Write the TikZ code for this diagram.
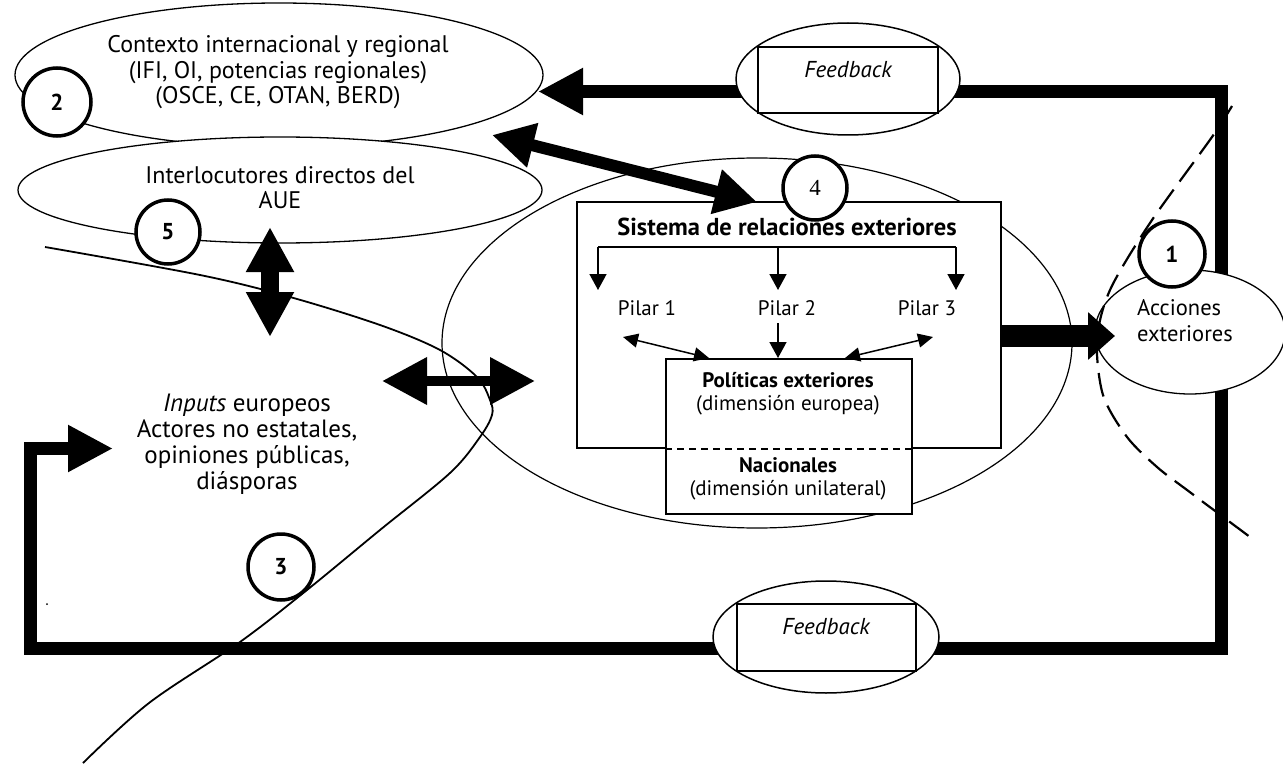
\documentclass[tikz,border=0pt]{standalone}
\usepackage{fontspec}
\setmainfont{PT Sans}
\newfontfamily\digitserif{Liberation Serif}
\usetikzlibrary{arrows.meta,shapes.geometric,backgrounds}

\tikzset{
  txt/.style={align=center, inner sep=0pt, font=\fontsize{24}{25.5}\selectfont},
  smalltxt/.style={align=center, inner sep=0pt, font=\fontsize{21}{23}\selectfont},
  oval/.style={draw, ellipse, fill=white, line width=1.3pt, inner sep=0pt},
  numcirc/.style={draw, circle, fill=white, line width=3.5pt, minimum size=64pt, inner sep=0pt, font=\fontsize{23}{23}\selectfont\bfseries},
  sysbox/.style={draw, rectangle, fill=white, line width=2pt, inner sep=0pt},
  feedline/.style={line width=13pt},
  fbarrow/.style={line width=13pt, -{Triangle[length=45pt,width=44pt]}},
  smallarrow/.style={line width=1.5pt, -{Triangle[length=16pt,width=17pt]}},
  smalldouble/.style={line width=1.5pt, {Triangle[length=15pt,width=14pt]}-{Triangle[length=15pt,width=14pt]}},
}

\begin{document}
\begin{tikzpicture}[x=1pt, y=-1pt]
\useasboundingbox (0,0) rectangle (1283,765);

% contexto e interlocutores
\node[oval, minimum width=528pt, minimum height=144pt] (ctx) at (279,75) {};
\node[oval, minimum width=524pt, minimum height=106pt] (intl) at (280,190) {};
\node[txt] (ctxtext) at (278,72.5) {Contexto internacional y regional\\(IFI, OI, potencias regionales)\\(OSCE, CE, OTAN, BERD)};
\node[txt] (intltext) at (280,187.5) {Interlocutores directos del\\AUE};
\node[numcirc, minimum size=68pt] (n2) at (57,102) {2};
\node[numcirc] (n5) at (168,232) {5};

% frontera 3
\draw[line width=1.8pt] plot[smooth, tension=0.55] coordinates {(45,247) (200,275) (290,297) (380,325) (440,350) (477,377) (490,400) (492,415) (480,437) (450,473) (380,530) (307,590) (240,642) (149,703) (83,763)};
\node[numcirc, minimum size=66pt] (n3) at (281,567) {3};
\fill (47,604) circle (1);

% inputs
\node[txt, font=\fontsize{25}{26}\selectfont] (inptext) at (247,444) {\textit{Inputs} europeos\\Actores no estatales,\\opiniones públicas,\\diásporas};

% sistema
\node[draw, ellipse, line width=1.2pt, minimum width=630pt, minimum height=370pt] (env) at (757,343) {};
\node[sysbox, minimum width=424pt, minimum height=246pt] (sys) at (789,325) {};
\node[sysbox, minimum width=246pt, minimum height=155pt] (pol) at (789,436.5) {};
\draw[line width=1.5pt, dash pattern=on 7pt off 5pt] (pol.west |- sys.south) to (pol.east |- sys.south);
\node[txt, font=\fontsize{24.5}{25}\selectfont\bfseries] (systitle) at (787,227) {Sistema de relaciones exteriores};
\node[smalltxt] (p1) at (647,308) {Pilar 1};
\node[smalltxt] (p2) at (787,308) {Pilar 2};
\node[smalltxt] (p3) at (927,308) {Pilar 3};
\node[smalltxt] (poltext) at (788,393.5) {\textbf{Políticas exteriores}\\(dimensión europea)};
\node[smalltxt] (nactext) at (788,478.5) {\textbf{Nacionales}\\(dimensión unilateral)};

\coordinate (bl) at (598,247);
\coordinate (bm) at (778,247);
\coordinate (br) at (956,247);
\draw[line width=1.5pt] (bl) to (br);
\draw[smallarrow] (bl) -- ++(0,43);
\draw[smallarrow] (bm) -- ++(0,43);
\draw[smallarrow] (br) -- ++(0,43);
\coordinate (p2out) at (778,323);
\draw[smallarrow] (p2out) to (p2out |- pol.north);
\coordinate (p1out) at (623,337);
\coordinate (p1pol) at (709,358);
\coordinate (p3out) at (933,337);
\coordinate (p3pol) at (845,358);
\draw[smalldouble] (p1out) to (p1pol);
\draw[smalldouble] (p3out) to (p3pol);

% acciones exteriores
\node[oval, minimum width=190pt, minimum height=124pt] (acc) at (1190,332) {};
\node[txt, align=left, anchor=west, font=\fontsize{22.5}{26}\selectfont] (acctext) at (1137,321) {Acciones\\exteriores};
\node[numcirc, minimum size=66pt] (n1) at (1172,254) {1};
\node[numcirc, font=\fontsize{23}{23}\selectfont\digitserif] (n4) at (815,188) {4};
\coordinate (acctip) at (1115,336);
\draw[line width=22pt, -{Triangle[length=27pt,width=46pt]}] (sys.east |- acctip) to (acctip);
\draw[line width=2.2pt, dash pattern=on 24pt off 10pt] plot[smooth] coordinates {(1232,106) (1212,137) (1150,223) (1110,290) (1097,340) (1103,395) (1127,437) (1157,467) (1187,490) (1250,537)};

% feedback
\node[oval, line width=1.5pt, minimum width=224pt, minimum height=112pt] (fbtop) at (848,79) {};
\node[sysbox, minimum width=180pt, minimum height=66pt] (fbtopbox) at (848,80) {};
\node[txt, font=\fontsize{23}{24}\selectfont\itshape] (fbtoptext) at (848,70) {Feedback};
\node[oval, line width=1.5pt, minimum width=226pt, minimum height=112pt] (fbbot) at (826,637) {};
\node[sysbox, minimum width=179pt, minimum height=67pt] (fbbotbox) at (826.5,637.5) {};
\node[txt, font=\fontsize{23}{24}\selectfont\itshape] (fbbottext) at (826,627) {Feedback};

% flechas gruesas
\coordinate (ctxin) at (492,135);
\coordinate (sysin) at (757,202);
\draw[line width=12pt, {Triangle[length=42pt,width=43pt]}-{Triangle[length=42pt,width=43pt]}] (ctxin) to (sysin);
\coordinate (intlin) at (270,227);
\coordinate (inpup) at (270,337);
\draw[line width=18pt, {Triangle[length=45pt,width=45pt]}-{Triangle[length=45pt,width=45pt]}] (intlin) to (inpup);
\coordinate (inpright) at (382,381);
\coordinate (envleft) at (535,381);
\draw[line width=10pt, {Triangle[length=45pt,width=45pt]}-{Triangle[length=45pt,width=45pt]}] (inpright) to (envleft);

% marco de retroalimentacion
\begin{scope}[on background layer]
\coordinate (ctr) at (1221.5,91.5);
\coordinate (cbr) at (1221.5,648);
\coordinate (cbl) at (30,648);
\coordinate (ctl) at (30,448.5);
\coordinate (inptip) at (113,448.5);
\coordinate (ctxtip) at (538,91.5);
\draw[feedline] (fbtop.center |- ctr) -- (ctr) -- (cbr) -- (fbbot.center |- cbr);
\draw[fbarrow] (fbbot.center |- cbl) -- (cbl) -- (ctl) -- (inptip);
\draw[fbarrow] (fbtop.center |- ctr) to (ctxtip);
\end{scope}
\end{tikzpicture}
\end{document}
